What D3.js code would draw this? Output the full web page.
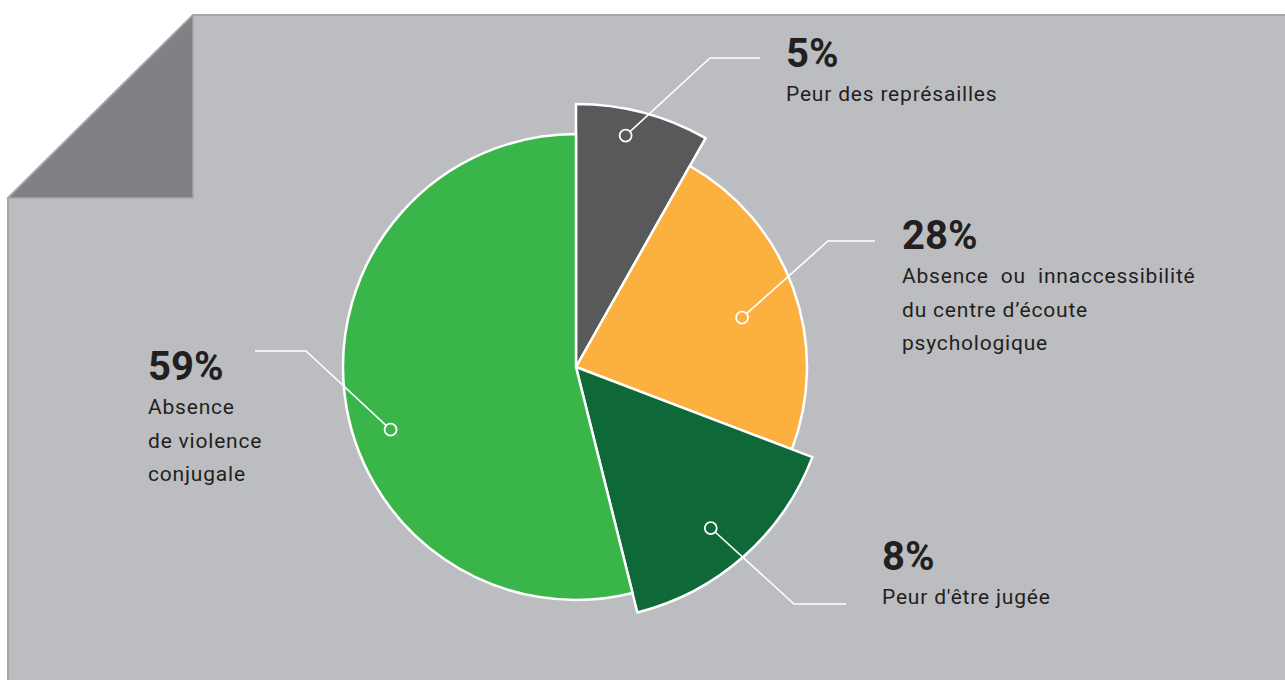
<!DOCTYPE html>
<html>
<head>
<meta charset="utf-8">
<script src="https://cdn.jsdelivr.net/npm/d3@7"></script>
<style>
  body { margin: 0; background: #fff; }
  svg { display: block; }
  text { font-family: Roboto, "DejaVu Sans", sans-serif; fill: #231f20; }
</style>
</head>
<body>
<div id="chart"></div>
<script>
// Data
const categories = ['Peur des représailles', 'Absence ou innaccessibilité du centre d’écoute psychologique', 'Peur d\'être jugée', 'Absence de violence conjugale'];
const percentLabels = [5, 28, 8, 59];
// share of the circle each slice actually takes in the drawing
const sliceShares = [8.2, 22.6, 15.3, 53.9];
const labelLines = [
    ['Peur des représailles'],
    ['Absence  ou  innaccessibilité', 'du centre d’écoute', 'psychologique'],
    ['Peur d\'être jugée'],
    ['Absence', 'de violence', 'conjugale']
];

const WIDTH = 1285;
const HEIGHT = 680;
const CENTER = { x: 576, y: 367 };
const COLORS = ['#58595b', '#fbb040', '#0e6838', '#39b54a'];
const RADIUS = [263, 231, 253, 233];
// where the marker circle sits inside each slice (t: along the angle, rf: fraction of radius)
const MARKER = [{ t: 0.41, rf: 0.9 }, { t: 0.54, rf: 0.75 }, { t: 0.53, rf: 0.83 }, { t: 0.44, rf: 0.84 }];
// leader elbow / end and label anchor
const LEADER = [
    { elbow: [710, 58], end: [760, 58], tx: 786, ty: 67 },
    { elbow: [828, 241], end: [875, 241], tx: 902, ty: 249 },
    { elbow: [794, 604], end: [846, 604], tx: 882, ty: 570 },
    { elbow: [306, 351], end: [255, 351], tx: 148, ty: 380 }
];

const svg = d3.select('#chart')
    .append('svg')
    .attr('width', WIDTH)
    .attr('height', HEIGHT);

// Page with folded corner
svg.append('path')
    .attr('d', `M8,${HEIGHT} L8,198 L193,15 L${WIDTH},15 L${WIDTH},${HEIGHT} Z`)
    .attr('fill', '#bcbdc0');
svg.append('path')
    .attr('d', `M8,${HEIGHT} L8,198 L193,15 L${WIDTH},15`)
    .attr('fill', 'none')
    .attr('stroke', '#a5a6a9')
    .attr('stroke-width', 2);
svg.append('path')
    .attr('d', 'M8,198 L193,15 L193,198 Z')
    .attr('fill', '#808185')
    .attr('stroke', '#a5a6a9')
    .attr('stroke-width', 1.5);

const pie = d3.pie()
    .sort(null)
    .value(d => d);

const arcs = pie(sliceShares);

const arc = d3.arc()
    .innerRadius(0)
    .outerRadius(d => RADIUS[d.index]);

const gPie = svg.append('g')
    .attr('transform', `translate(${CENTER.x}, ${CENTER.y})`);

gPie.selectAll('path.slice')
    .data(arcs)
    .join('path')
        .attr('class', 'slice')
        .attr('d', arc)
        .attr('fill', d => COLORS[d.index])
        .attr('stroke', '#fff')
        .attr('stroke-width', 2.5)
        .attr('stroke-linejoin', 'miter');

// marker points
const markerPos = arcs.map(d => {
    const m = MARKER[d.index];
    const a = d.startAngle + m.t * (d.endAngle - d.startAngle);
    const p = d3.pointRadial(a, RADIUS[d.index] * m.rf);
    return [p[0] + CENTER.x, p[1] + CENTER.y];
});

// leader lines
svg.selectAll('path.leader')
    .data(arcs)
    .join('path')
        .attr('class', 'leader')
        .attr('d', d => {
            const p = markerPos[d.index];
            const l = LEADER[d.index];
            return d3.line()([p, l.elbow, l.end]);
        })
        .attr('fill', 'none')
        .attr('stroke', '#fff')
        .attr('stroke-width', 1.6);

svg.selectAll('circle.marker')
    .data(arcs)
    .join('circle')
        .attr('class', 'marker')
        .attr('cx', d => markerPos[d.index][0])
        .attr('cy', d => markerPos[d.index][1])
        .attr('r', 6)
        .attr('fill', d => COLORS[d.index])
        .attr('stroke', '#fff')
        .attr('stroke-width', 1.8);

// labels
const gLabel = svg.selectAll('g.label')
    .data(arcs)
    .join('g')
        .attr('class', 'label')
        .attr('transform', d => `translate(${LEADER[d.index].tx}, ${LEADER[d.index].ty})`);

gLabel.append('text')
    .text(d => `${percentLabels[d.index]}%`)
    .attr('font-size', '40px')
    .attr('font-weight', 'bold');

gLabel.append('text')
    .attr('font-size', '21px')
    .style('letter-spacing', '0.8px')
    .style('white-space', 'pre')
    .selectAll('tspan')
    .data(d => labelLines[d.index])
    .join('tspan')
        .attr('x', 0)
        .attr('y', (d, i) => 34 + i * 33.5)
        .text(d => d);
</script>
</body>
</html>
